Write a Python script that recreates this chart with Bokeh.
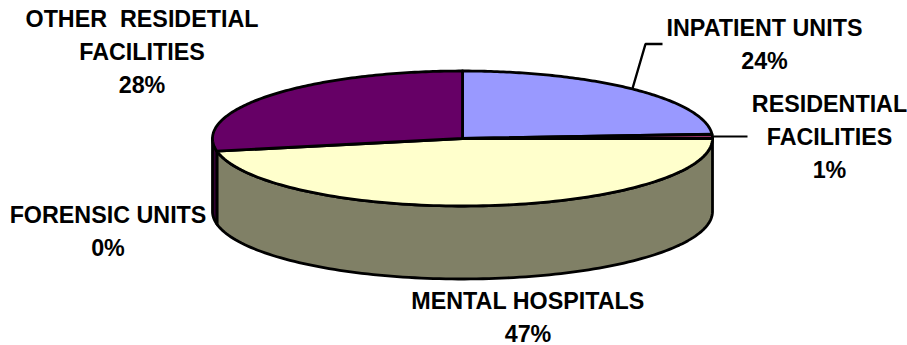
import numpy as np
from bokeh.core.properties import value
from bokeh.embed import file_html
from bokeh.models import Range1d
from bokeh.plotting import figure
from bokeh.resources import INLINE

# Share of places per type of facility, clockwise from twelve o'clock
categories = ["INPATIENT UNITS", "RESIDENTIAL FACILITIES", "MENTAL HOSPITALS", "FORENSIC UNITS", "OTHER  RESIDETIAL FACILITIES"]
shares = [24, 1, 47, 0, 28]
top_colors = ["#9999FF", "#993366", "#FFFFCC", "#CCFFFF", "#660066"]
side_colors = ["#7F7FD5", "#7F2A55", "#808066", "#668080", "#330033"]
label_lines = [
    ["INPATIENT UNITS"],
    ["RESIDENTIAL", "FACILITIES"],
    ["MENTAL HOSPITALS"],
    ["FORENSIC UNITS"],
    ["OTHER\u00a0 RESIDETIAL", "FACILITIES"],
]

W, H = 907, 345
CX, CY, RX, RY, DEPTH = 462.0, 138.0, 250.0, 67.5, 73.0
INK = "#000000"
STROKE = 2.8


def rim(a0, a1, n=120):
    """Points along the top ellipse between two clockwise angles (radians from twelve)."""
    t = np.linspace(a0, a1, n)
    return CX + RX * np.sin(t), CY - RY * np.cos(t)


p = figure(width=W, height=H, output_backend="svg", toolbar_location=None,
           x_range=Range1d(0, W), y_range=Range1d(H, 0),
           x_axis_type=None, y_axis_type=None, min_border=0, outline_line_color=None)
p.grid.visible = False
p.background_fill_color = "#FFFFFF"
p.border_fill_color = "#FFFFFF"

edges = np.cumsum([0] + shares) / sum(shares) * 2 * np.pi

# Front wall: only the part of each slice facing the viewer is drawn
for s, color in zip(range(len(shares)), side_colors):
    a0, a1 = max(edges[s], np.pi / 2), min(edges[s + 1], 3 * np.pi / 2)
    if a1 <= a0:
        continue
    x, y = rim(a0, a1)
    xs = np.concatenate([x, x[::-1]])
    ys = np.concatenate([y, (y + DEPTH)[::-1]])
    p.patch(xs, ys, fill_color=color, line_color=INK, line_width=STROKE, line_join="round")

# Top face of the pie
for s, color in zip(range(len(shares)), top_colors):
    if shares[s] == 0:
        continue
    x, y = rim(edges[s], edges[s + 1])
    p.patch(np.concatenate([[CX], x]), np.concatenate([[CY], y]),
            fill_color=color, line_color=INK, line_width=STROKE, line_join="round")

# Leader lines for the two right-hand labels
p.line([632, 645, 662], [88, 43.5, 43.5], line_color=INK, line_width=2.4)
p.line([712, 747], [136, 136], line_color=INK, line_width=2.2)

# Labels: category lines followed by the percentage
anchors = [(764, 27), (829, 103), (527.5, 300), (107.5, 214), (141.5, 18)]
LEADING = 33
for lines, share, (ax, ay) in zip(label_lines, shares, anchors):
    rows = lines + [f"{share}%"]
    p.text([ax] * len(rows), [ay + i * LEADING for i in range(len(rows))], text=rows,
           text_font=value("Liberation Sans"), text_font_style="bold",
           text_font_size="23.3px", text_color=INK, text_align="center", text_baseline="middle")

open("out.html", "w").write(file_html(p, INLINE))
